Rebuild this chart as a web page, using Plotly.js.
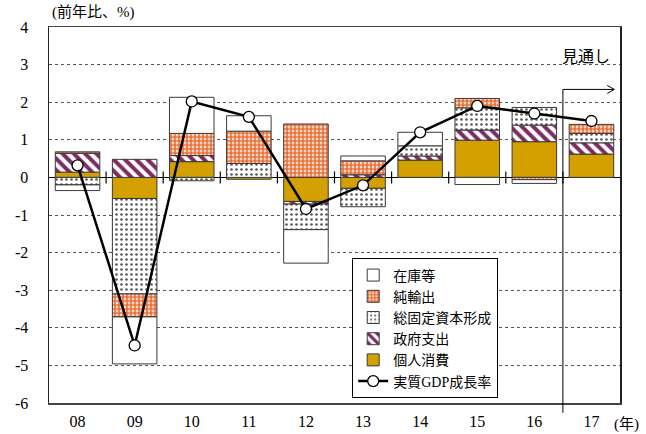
<!DOCTYPE html>
<html>
<head>
<meta charset="utf-8">
<script src="https://cdn.plot.ly/plotly-3.0.1.min.js"></script>
<style>
  html, body { margin: 0; padding: 0; background: #fff; }
  #chart { width: 646px; height: 434px; }
</style>
</head>
<body>
<div id="chart"></div>
<script>
// Year labels (20xx)
const years = ['08', '09', '10', '11', '12', '13', '14', '15', '16', '17'];

// Contributions to real GDP growth (percentage points)
const consumption = [0.14, -0.56, 0.42, -0.05, -0.64, -0.29, 0.46, 0.99, 0.95, 0.62]; // 個人消費
const government  = [0.50, 0.48, 0.16, null, -0.07, 0.07, 0.11, 0.27, 0.44, 0.30];   // 政府支出
const investment  = [-0.20, -2.54, -0.09, 0.37, -0.68, -0.49, 0.27, 0.59, 0.47, 0.25]; // 総固定資本形成
const netExports  = [0.04, -0.61, 0.59, 0.86, 1.42, 0.37, null, 0.25, -0.06, 0.24];  // 純輸出
const inventories = [-0.15, -1.25, 0.96, 0.41, -0.89, 0.13, 0.36, -0.19, -0.10, null]; // 在庫等

// Real GDP growth rate (%)
const gdpGrowth = [0.32, -4.47, 2.02, 1.61, -0.84, -0.21, 1.2, 1.9, 1.7, 1.5];

// Y-axis ticks (percent), labelled with plain hyphen minus
const yTicks = [-6, -5, -4, -3, -2, -1, 0, 1, 2, 3, 4];

// Years whose growth figure is printed above the line
const labelledYears = ['15', '16', '17'];

const serif = 'Liberation Serif, "Noto Sans CJK JP", serif';
const cjk = '"Noto Sans CJK JP", sans-serif';
const outline = { color: '#3a3a3a', width: 1 };
const barWidth = 0.78;

function barTrace(name, values, marker, rank) {
  return {
    type: 'bar', name: name, x: years, y: values, width: barWidth,
    marker: Object.assign({ line: outline }, marker),
    legendrank: rank, hoverinfo: 'skip'
  };
}

const traces = [
  barTrace('個人消費', consumption, { color: '#D4A000' }, 5),
  barTrace('政府支出', government, {
    color: 'white',
    pattern: { shape: '\\', fgcolor: '#7A2C63', bgcolor: 'white', size: 8, solidity: 0.5, fillmode: 'replace' }
  }, 4),
  barTrace('総固定資本形成', investment, {
    color: 'white',
    pattern: { shape: '.', fgcolor: '#5a5a5a', bgcolor: 'white', size: 5, solidity: 0.22, fillmode: 'replace' }
  }, 3),
  barTrace('純輸出', netExports, {
    color: 'white',
    pattern: { shape: '.', fgcolor: '#E8723A', bgcolor: 'white', size: 4, solidity: 0.72, fillmode: 'replace' }
  }, 2),
  barTrace('在庫等', inventories, { color: 'white' }, 1),
  {
    type: 'scatter', mode: 'lines+markers', name: '実質GDP成長率',
    x: years, y: gdpGrowth,
    line: { color: '#000', width: 2.5 },
    marker: { symbol: 'circle', size: 11, color: 'white', line: { color: '#000', width: 1.3 } },
    legendrank: 6, hoverinfo: 'skip'
  }
];

const annotations = labelledYears.map((yr) => {
  const i = years.indexOf(yr);
  return {
    x: yr, y: gdpGrowth[i], xref: 'x', yref: 'y', text: gdpGrowth[i].toFixed(1),
    showarrow: false, yshift: 25,
    font: { family: 'Liberation Sans, Arial, sans-serif', size: 16, color: '#111' }
  };
});
annotations.push(
  { xref: 'paper', yref: 'paper', x: 0.002, y: 1.038, xanchor: 'left', yanchor: 'middle',
    text: '(前年比、%)', showarrow: false, font: { family: serif, size: 15, color: '#000' } },
  { xref: 'paper', yref: 'paper', x: 1.012, y: -0.057, xanchor: 'center', yanchor: 'middle',
    text: '(年)', showarrow: false, font: { family: serif, size: 15, color: '#000' } },
  { xref: 'paper', yref: 'paper', x: 0.94, y: 0.925, xanchor: 'center', yanchor: 'middle',
    text: '見通し', showarrow: false, font: { family: cjk, size: 16, color: '#000' } }
);

// Small tick marks crossing the zero line at each category boundary
const boundaries = years.slice(1).map((_, i) => i + 0.5);
const shapes = boundaries.map((b) => ({
  type: 'line', xref: 'x', yref: 'y', ysizemode: 'pixel', yanchor: 0,
  x0: b, x1: b, y0: -6, y1: 6, line: { color: '#000', width: 1.2 }
}));

// Forecast bracket: divider between the last two years with an arrow to the right
const split = years.length - 1.5;
shapes.push(
  { type: 'line', xref: 'x', yref: 'paper', x0: split, x1: split, y0: -0.026, y1: 0.834,
    line: { color: '#000', width: 1 } },
  { type: 'line', xref: 'x', yref: 'paper', x0: split, x1: years.length - 0.6, y0: 0.834, y1: 0.834,
    line: { color: '#000', width: 1 } },
  { type: 'path', xref: 'x', yref: 'paper', xsizemode: 'pixel', ysizemode: 'pixel',
    xanchor: years.length - 0.6, yanchor: 0.834, path: 'M-7,4 L0,0 L-7,-4',
    line: { color: '#000', width: 1 } }
);

const layout = {
  width: 646, height: 434,
  margin: { l: 49, r: 26, t: 27, b: 31, pad: 0, autoexpand: false },
  paper_bgcolor: 'white', plot_bgcolor: 'white',
  barmode: 'relative', bargap: 0.22,
  showlegend: true,
  legend: {
    x: 0.531, y: 0.012, xanchor: 'left', yanchor: 'bottom',
    bgcolor: 'white', bordercolor: '#000', borderwidth: 1,
    font: { family: serif, size: 14, color: '#000' },
    tracegroupgap: 0, itemwidth: 30
  },
  xaxis: {
    type: 'category', categoryarray: years, range: [-0.5, years.length - 0.5],
    showline: true, linecolor: '#444', linewidth: 1.5, mirror: true,
    ticks: '', showgrid: false, zeroline: false, ticklabelstandoff: 3,
    tickfont: { family: serif, size: 16, color: '#000' }, fixedrange: true
  },
  yaxis: {
    range: [-6, 4], tickmode: 'array', tickvals: yTicks, ticktext: yTicks.map(String),
    showline: true, linecolor: '#222', linewidth: 1.5, mirror: true,
    showgrid: true, gridcolor: '#555', griddash: 'dot', gridwidth: 1,
    zeroline: true, zerolinecolor: '#000', zerolinewidth: 1.5,
    ticks: '', ticklabelstandoff: 16,
    tickfont: { family: serif, size: 16, color: '#000' }, fixedrange: true
  },
  annotations: annotations,
  shapes: shapes
};

Plotly.newPlot('chart', traces, layout, { staticPlot: true, displayModeBar: false });
</script>
</body>
</html>
